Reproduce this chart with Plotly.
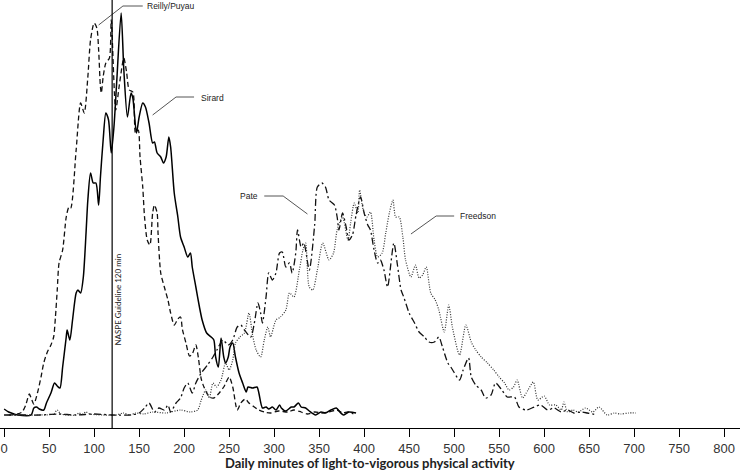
import plotly.graph_objects as go

# ---------------- data (minutes of LVPA, relative frequency) ----------------
sirard_x = [0, 5, 11, 15, 30, 33, 36, 39, 44, 47, 52, 56, 59, 62, 65, 69, 70, 73, 76, 80, 82, 85, 88, 91, 93,
            96, 99, 102, 105, 107, 110, 113, 116, 119, 122, 125, 130, 133, 137, 141, 143, 147, 150, 154, 157,
            161, 165, 167, 170, 174, 177, 180, 183, 185, 189, 193, 196, 200, 204, 207, 209, 213, 217, 220, 225,
            230, 233, 235, 238, 241, 244, 246, 249, 251, 254, 257, 261, 265, 269, 271, 276, 281, 283, 287, 291,
            294, 298, 302, 306, 308, 313, 319, 322, 327, 330, 335, 339, 346, 352, 357, 363, 369, 374, 377, 383, 391]
sirard_y = [6, 3, 1, 0, 0, 7, 8, 6, 5, 12, 22, 32, 29, 27, 48, 78, 85, 75, 95, 122, 125, 122, 138, 182, 215,
            242, 232, 232, 210, 238, 275, 302, 295, 262, 288, 332, 402, 345, 298, 322, 317, 282, 298, 312, 308,
            292, 272, 273, 262, 258, 252, 258, 278, 268, 222, 198, 178, 168, 158, 162, 148, 128, 108, 95, 82,
            78, 75, 58, 48, 77, 58, 52, 58, 68, 72, 58, 42, 32, 23, 28, 27, 28, 22, 7, 8,
            6, 8, 5, 10, 7, 4, 8, 8, 12, 8, 7, 4, 0, 3, 2, 5, 7, 2, 0, 3, 2]

reilly_x = [5, 15, 20, 24, 28, 30, 33, 37, 41, 44, 48, 52, 55, 57, 59, 61, 65, 69, 72, 74, 80, 85, 89, 93, 96,
            100, 103, 105, 107, 108, 110, 113, 117, 119, 124, 128, 133, 136, 139, 143, 146, 149, 151, 154, 156,
            159, 162, 165, 167, 170, 171, 174, 178, 182, 185, 189, 193, 196, 198, 202, 206, 209, 213, 216, 219,
            222, 228, 233, 239, 244, 250, 254, 259, 263, 268, 272, 278, 283, 289, 296, 305, 315, 322, 330, 337,
            345, 353, 361, 370, 376, 382, 388]
reilly_y = [0, 1, 3, 10, 21, 17, 11, 22, 38, 52, 63, 70, 78, 98, 125, 152, 165, 198, 208, 207, 265, 312, 302, 338, 375,
            392, 387, 365, 328, 322, 338, 352, 357, 395, 305, 330, 357, 343, 325, 323, 282, 285, 258, 228, 198,
            175, 170, 202, 210, 202, 182, 142, 128, 115, 102, 90, 96, 98, 86, 72, 59, 61, 70, 56, 36,
            28, 18, 17, 22, 28, 38, 28, 5, 12, 16, 12, 8, 5, 3, 2, 4, 3, 5, 3, 1,
            3, 2, 3, 5, 2, 3, 1]

pate_x = [0, 20, 40, 60, 80, 100, 120, 140, 150, 156, 161, 167, 172, 178, 182, 185, 191, 196, 200, 204, 209, 213,
          219, 226, 232, 237, 243, 249, 254, 259, 263, 267, 274, 278, 282, 285, 287, 291, 294, 298, 302, 306, 309,
          313, 317, 320, 324, 326, 330, 333, 339, 345, 348, 353, 357, 361, 367, 370, 372, 376, 380, 383, 387, 391,
          396, 400, 404, 407, 411, 415, 418, 422, 426, 433, 437, 441, 444, 450, 456, 461, 467, 472, 478, 483, 487,
          493, 497, 506, 510, 516, 519, 524, 530, 535, 541, 546, 553, 559, 567, 572, 580, 589, 596, 604, 611, 619,
          626, 633, 641, 648, 659]
pate_y = [0, 0, 0, 1, 0, 1, 0, 0, 2, 7, 12, 3, 7, 5, 10, 3, 12, 17, 27, 32, 22, 32,
          42, 50, 58, 66, 75, 70, 75, 88, 90, 85, 78, 92, 112, 102, 92, 118, 142, 135, 142, 162, 163,
          148, 152, 142, 162, 185, 168, 172, 145, 190, 228, 232, 228, 215, 210, 198, 185, 202, 188, 175, 180, 200,
          218, 202, 190, 185, 165, 152, 155, 145, 128, 172, 150, 125, 118, 102, 92, 83, 78, 73, 73, 78, 68,
          52, 47, 35, 45, 57, 38, 30, 25, 17, 20, 32, 25, 18, 18, 8, 5, 8, 10, 5, 7, 3,
          5, 2, 3, 2, 0]

freedson_x = [0, 20, 40, 55, 59, 63, 80, 83, 87, 91, 95, 110, 125, 132, 140, 146, 155, 165, 180, 196, 207, 215,
              219, 224, 228, 232, 236, 241, 246, 250, 254, 257, 262, 267, 272, 276, 280, 285, 289, 293, 296, 302,
              307, 313, 317, 322, 328, 332, 335, 339, 343, 348, 354, 361, 366, 370, 376, 382, 385, 389, 393, 395,
              399, 403, 407, 411, 415, 420, 424, 428, 432, 435, 439, 443, 446, 452, 457, 461, 465, 469, 474, 479,
              483, 489, 494, 498, 506, 513, 519, 524, 530, 537, 544, 550, 556, 561, 566, 570, 576, 582, 588, 593,
              600, 606, 613, 619, 622, 626, 632, 638, 646, 654, 661, 670, 678, 685, 694, 702]
freedson_y = [0, 0, 0, 1, 5, 1, 0, 2, 1, 3, 1, 0, 0, 2, 0, 2, 1, 3, 2, 5, 3, 5,
              15, 25, 17, 32, 28, 35, 52, 45, 55, 72, 78, 82, 102, 80, 65, 58, 75, 88, 78, 95,
              98, 105, 122, 118, 145, 165, 172, 128, 125, 145, 172, 155, 162, 185, 198, 175, 192, 212, 202, 225,
              205, 198, 203, 175, 158, 162, 182, 202, 215, 198, 198, 178, 155, 138, 150, 137, 140, 148, 122, 115,
              105, 83, 110, 88, 60, 90, 73, 65, 58, 52, 45, 38, 32, 25, 28, 35, 17, 25, 33, 15,
              19, 10, 10, 5, 13, 3, 5, 3, 7, 3, 8, 0, 2, 1, 2, 2]

x_ticks = list(range(0, 801, 50))
guideline_min = 120
guideline_text = "NASPE Guideline 120 min"
x_title = "Daily minutes of light-to-vigorous physical activity"

# series labels: name, text anchor (min, value), leader polyline (mins, values), text side
labels = [
    ("Reilly/Puyau", (157, 409), ([105, 132, 154], [390, 409, 409]), "left"),
    ("Sirard", (216, 317), ([165, 191, 211], [300, 318, 318]), "left"),
    ("Pate", (284, 219), ([289, 310, 337], [219, 219, 201]), "right"),
    ("Freedson", (504, 199), ([452, 480, 500], [181, 199, 199]), "left"),
]

# ---------------- figure ----------------
fig = go.Figure()
series = [
    ("Reilly/Puyau", reilly_x, reilly_y, "5px,3px", "#111", 1.3),
    ("Sirard", sirard_x, sirard_y, "solid", "#000", 1.5),
    ("Pate", pate_x, pate_y, "7px,3px,2px,3px", "#111", 1.3),
    ("Freedson", freedson_x, freedson_y, "1px,1.5px", "#333", 1.2),
]
for name, xs, ys, dash, color, w in series:
    fig.add_trace(go.Scatter(x=xs, y=ys, mode="lines", name=name,
                             line=dict(color=color, width=w, dash=dash, shape="spline", smoothing=0.7),
                             hoverinfo="skip"))

# leader lines
for name, (tx, ty), (lx, ly), side in labels:
    fig.add_trace(go.Scatter(x=lx, y=ly, mode="lines", line=dict(color="#555", width=1),
                             hoverinfo="skip", showlegend=False))
    fig.add_annotation(x=tx, y=ty, text=name, showarrow=False,
                       xanchor="left" if side == "left" else "right", yanchor="middle",
                       font=dict(family="Liberation Sans, Arial", size=8.5, color="#222"))

# guideline
fig.add_shape(type="line", x0=guideline_min, x1=guideline_min, y0=0, y1=1, xref="x", yref="paper",
              line=dict(color="#000", width=1.2))
fig.add_annotation(x=guideline_min + 6, y=115, text=guideline_text, textangle=-90, showarrow=False,
                   xanchor="center", yanchor="middle",
                   font=dict(family="Lato, Carlito, sans-serif", size=8, color="#222"))

# axis title
fig.add_annotation(x=0.5, y=-0.082, xref="paper", yref="paper", text="<b>" + x_title + "</b>",
                   showarrow=False, xanchor="center", yanchor="middle",
                   font=dict(family="Lato, Carlito, sans-serif", size=13, color="#222"))

fig.update_layout(
    width=740, height=471,
    margin=dict(l=0, r=0, t=0, b=43),
    paper_bgcolor="white", plot_bgcolor="white",
    showlegend=False,
    xaxis=dict(range=[-4.6, 817.6], tickvals=x_ticks, ticktext=[str(v) for v in x_ticks],
               showgrid=False, zeroline=False, showline=True, linecolor="#000", linewidth=1,
               ticks="outside", ticklen=8, tickcolor="#000", tickwidth=1,
               tickfont=dict(family="Liberation Sans, Arial", size=13, color="#333"),
               automargin=False),
    yaxis=dict(range=[-13, 415], visible=False, automargin=False),
)

fig.write_html("out.html", config={"displayModeBar": False},
               post_script="document.body.style.margin='0';document.body.style.padding='0';")
